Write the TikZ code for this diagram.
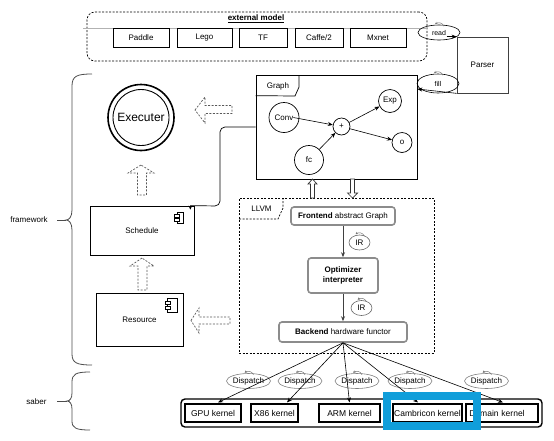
\documentclass[tikz,border=0pt]{standalone}
\usepackage{fontspec}
\setmainfont{Liberation Sans}
\usetikzlibrary{arrows.meta,calc,shapes.geometric}
\definecolor{hlblue}{RGB}{16,158,218}
\newcommand\msgicon[1]{\draw[msg] ($(#1.north)+(5,1.5)$) .. controls ($(#1.north)+(3,-2.5)$) and ($(#1.north)+(-1,-2.5)$) .. ($(#1.north)+(-4,-0.5)$);}
\newcommand\compicon[4]{%
  \draw[fill=white,line width=0.6pt] (#1,#2) rectangle ++(#3,#4);
  \draw[fill=white,line width=0.6pt] (#1-2.5,#2+0.22*#4) rectangle ++(5,0.22*#4);
  \draw[fill=white,line width=0.6pt] (#1-2.5,#2+0.58*#4) rectangle ++(5,0.22*#4);}
\begin{document}
\begin{tikzpicture}[x=1pt,y=-1pt,font=\fontsize{8}{9.6}\selectfont,
  box/.style={draw,rectangle,inner sep=0pt,align=center,line width=0.7pt},
  kbox/.style={box,line width=1.1pt,fill=white,font=\fontsize{8.5}{10}\selectfont},
  llbox/.style={draw=black!45,line width=1.6pt,rectangle,rounded corners=3pt,inner sep=0pt,align=center,fill=white},
  circ/.style={draw,circle,inner sep=0pt,line width=0.7pt},
  lab/.style={draw,ellipse,inner sep=0pt,line width=0.6pt},
  msg/.style={black!55,line width=0.5pt,-{Stealth[length=2.5pt,width=2.5pt]}},
  arr/.style={line width=0.6pt,-{Stealth[length=5pt,width=4pt]}},
  garr/.style={black!75,line width=0.9pt,-{Stealth[length=5pt,width=4pt]}},
  dblock/.style={draw=black!65,dash pattern=on 2pt off 1.5pt,line width=0.7pt},
  sblock/.style={draw=black!80,fill=white,line width=0.7pt},
  brace/.style={black!70,line width=0.8pt}]
\useasboundingbox (0,0) rectangle (554,440);

% external model
\node[box,dash pattern=on 2pt off 1.5pt,rounded corners=8pt,minimum width=340pt,minimum height=49pt] (ext) at (257,36.5) {};
\draw[black!30,line width=0.6pt] (83,28) -- (ext.east |- 0,28);
\node at (256,18.5) {\underline{\textbf{external model}}};
\node[box,minimum width=56pt,minimum height=19pt] (paddle) at (141,37.5) {Paddle};
\node[box,minimum width=55pt,minimum height=19pt] (lego) at (204.5,37.5) {Lego};
\node[box,minimum width=48pt,minimum height=19pt] (tf) at (263,37.5) {TF};
\node[box,minimum width=48pt,minimum height=19pt] (caffe) at (319,37.5) {Caffe/2};
\node[box,minimum width=56pt,minimum height=19pt] (mxnet) at (378,37.5) {Mxnet};

% parser
\node[box,draw=black!75,minimum width=51pt,minimum height=56pt] (parser) at (482.5,65) {Parser};
\node[lab,minimum width=42pt,minimum height=15pt,font=\fontsize{7}{8}\selectfont] (read) at (439,32.5) {read};
\msgicon{read}
\draw[arr] ([xshift=-10pt]parser.north west) -- (parser.north west);

% graph
\node[box,minimum width=161pt,minimum height=104pt] (graph) at (336.5,127) {};
\draw[line width=0.7pt] (graph.north west) ++(0,21) -- (295,96) -- (299,87) -- (299,75);
\node at (278,86) {Graph};
\node[circ,minimum size=30pt] (conv) at (284,117.5) {Conv};
\node[circ,minimum size=17pt] (plus) at (341.5,126.5) {+};
\node[circ,minimum size=23pt] (exp) at (390,101) {Exp};
\node[circ,minimum size=20pt] (o) at (402,142.5) {o};
\node[circ,minimum size=29pt] (fc) at (309,160) {fc};
\draw[arr] ([xshift=-6pt]conv.east) -- (plus);
\draw[arr] (fc) -- (plus);
\draw[arr] (plus) -- (exp);
\draw[arr] (plus) -- (o);

% fill
\node[lab,minimum width=42pt,minimum height=19pt,font=\fontsize{7}{8}\selectfont] (fill) at (438,83.5) {fill};
\msgicon{fill}
\coordinate (fillend) at (graph.east |- 0,89);
\draw[arr] (parser.south west) -- (fillend);

% executer
\node[circle,draw,line width=1.6pt,minimum size=66pt,inner sep=0pt] (exec) at (141,117.5) {};
\node[circle,draw,line width=0.9pt,minimum size=56pt,inner sep=0pt,font=\fontsize{12}{14}\selectfont] at (exec) {Executer};

% schedule / resource
\node[box,minimum width=104pt,minimum height=49pt] (sched) at (142,230.5) {Schedule};
\compicon{177}{212}{6}{11}
\node[box,minimum width=87pt,minimum height=53pt] (res) at (139.5,319.5) {Resource};
\compicon{167.5}{298}{9.5}{14}

\draw[line width=0.7pt,-{Stealth[length=4pt,width=3.5pt]}] (graph.west) [rounded corners=5pt] -| (220,206) [sharp corners] -- ($(sched.north east)+(-4,0)$) -- ($(sched.north east)+(-4,4)$);

% dashed block arrows
\draw[dblock] (195,110) -- (205,97) -- (205,105.5) -- (232,105.5) -- (232,113.5) -- (205,113.5) -- (205,123) -- cycle;
\draw[dblock] (141,165) -- (128,173) -- (137.5,173) -- (137.5,195) -- (146.5,195) -- (146.5,173) -- (154,173) -- cycle;
\draw[dblock] (142,258) -- (130,266) -- (138,266) -- (138,290) -- (147,290) -- (147,266) -- (154,266) -- cycle;
\draw[dblock] (191,320.5) -- (199,308) -- (199,317) -- (230,317) -- (230,324) -- (199,324) -- (199,333) -- cycle;

% LLVM
\node[box,dash pattern=on 2pt off 1.5pt,minimum width=195pt,minimum height=155pt] (llvm) at (336.5,275.5) {};
\draw[line width=0.7pt,dash pattern=on 2pt off 1.5pt] (239,219) -- (278,219) -- (283,208) -- (283,198);
\node at (261.5,209) {LLVM};

% graph <-> llvm block arrows
\draw[sblock] (312.5,179) -- (308,184) -- (310.5,184) -- (310.5,198) -- (314.5,198) -- (314.5,184) -- (317,184) -- cycle;
\draw[sblock] (352.5,198) -- (347.5,193) -- (350.5,193) -- (350.5,179) -- (354.5,179) -- (354.5,193) -- (357.5,193) -- cycle;

\node[llbox,minimum width=104pt,minimum height=18pt] (front) at (343,216) {\textbf{Frontend} abstract Graph};
\node[llbox,minimum width=70pt,minimum height=35pt] (opt) at (343,275.5) {\textbf{Optimizer}\\\textbf{interpreter}};
\node[llbox,minimum width=128pt,minimum height=20pt] (back) at (343,332) {\textbf{Backend} hardware functor};
\draw[garr] (front) -- (opt);
\draw[garr] (opt) -- (back);
\node[lab,draw=black!60,minimum width=21pt,minimum height=15pt] (ir1) at (359.5,242.5) {IR};
\msgicon{ir1}
\node[lab,draw=black!60,minimum width=21pt,minimum height=15pt] (ir2) at (361.5,308) {IR};
\msgicon{ir2}

% kernels
\node[draw,line width=1.4pt,rounded corners=4pt,minimum width=361pt,minimum height=28pt,inner sep=0pt] (kern) at (361.5,413) {};
\node[kbox,minimum width=56pt,minimum height=18pt] (gpu) at (213,413) {GPU kernel};
\node[kbox,minimum width=47pt,minimum height=18pt] (x86) at (274.5,413) {X86 kernel};
\node[kbox,minimum width=61pt,minimum height=18pt] (arm) at (349.5,413) {ARM kernel};
\node[kbox,minimum width=69pt,minimum height=18pt] (camb) at (427.5,413) {Cambricon kernel};
\node[kbox,minimum width=72pt,minimum height=18pt,text width=72pt,align=center] (dom) at (502,413) {\hspace*{-10pt}Domain kernel};

% dispatch labels
\node[lab,draw=black!50,minimum width=40pt,minimum height=15pt] (d1) at (248.5,381) {Dispatch};
\node[lab,draw=black!50,minimum width=38pt,minimum height=15pt] (d2) at (300,381) {Dispatch};
\node[lab,draw=black!50,minimum width=42pt,minimum height=15pt] (d3) at (357,381) {Dispatch};
\node[lab,draw=black!50,minimum width=43pt,minimum height=15pt] (d4) at (410,381) {Dispatch};
\node[lab,draw=black!50,minimum width=43pt,minimum height=15pt] (d5) at (486.5,381) {Dispatch};
\foreach \d in {d1,d2,d3,d4,d5} {\msgicon{\d}}

\draw[arr] (back.south) -- ($(gpu.north)+(5,-1)$);
\draw[arr] (back.south) -- ($(x86.north)+(12.5,-1)$);
\draw[arr] (back.south) -- ($(arm.north)+(0,-1)$);
\draw[arr] (back.south) -- ($(camb.north)+(-9.5,-1)$);
\draw[arr] (back.south) -- ($(dom.north)+(1,-1)$);

% highlight
\draw[hlblue,line width=8pt] (387,396) rectangle (477,426);

% braces
\draw[brace] (92,74) .. controls (77,74) and (72,76) .. (72,86) -- (72,210) .. controls (72,217) and (69,220) .. (66,220) .. controls (69,220) and (72,223) .. (72,230) -- (72,354) .. controls (72,363) and (77,365) .. (92,365);
\draw[brace] (57,220) -- (66,220);
\node at (29,220) {framework};
\draw[brace] (90,372) .. controls (76,372) and (72,374) .. (72,382) -- (72,393) .. controls (72,398) and (70,401) .. (67,401) .. controls (70,401) and (72,404) .. (72,409) -- (72,421) .. controls (72,428) and (76,430) .. (90,430);
\draw[brace] (57,401) -- (67,401);
\node at (36.5,402) {saber};
\end{tikzpicture}
\end{document}
